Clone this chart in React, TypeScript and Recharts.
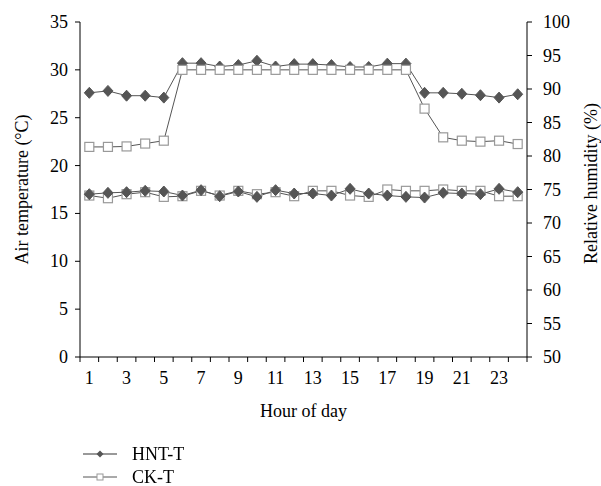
import { LineChart, Line, XAxis, YAxis, Legend } from 'recharts';

const hours = [1, 2, 3, 4, 5, 6, 7, 8, 9, 10, 11, 12, 13, 14, 15, 16, 17, 18, 19, 20, 21, 22, 23, 24];

// air temperature (°C), left axis
const hntTemp = [27.6, 27.8, 27.3, 27.3, 27.1, 30.7, 30.7, 30.35, 30.5, 30.95, 30.35, 30.6, 30.6, 30.5, 30.3, 30.3, 30.65, 30.65, 27.6, 27.6, 27.5, 27.35, 27.1, 27.45];
const ckTemp = [21.95, 21.95, 22.0, 22.3, 22.6, 30.0, 30.0, 30.0, 30.0, 30.0, 30.0, 30.0, 30.0, 30.0, 30.0, 30.0, 30.0, 30.0, 25.95, 22.95, 22.6, 22.5, 22.6, 22.25];

// relative humidity (%), right axis
const hntRH = [74.3, 74.5, 74.6, 74.8, 74.7, 74.1, 74.9, 74.0, 74.7, 73.9, 74.9, 74.4, 74.4, 74.1, 75.1, 74.4, 74.1, 73.9, 73.8, 74.5, 74.4, 74.3, 75.1, 74.6];
const ckRH = [74.1, 73.7, 74.3, 74.6, 73.9, 74.0, 74.8, 74.1, 74.8, 74.3, 74.6, 74.0, 74.8, 74.8, 74.1, 73.9, 75.0, 74.8, 74.8, 75.0, 74.8, 74.8, 74.0, 74.0];

const xTicks = [0.5, 1, 1.5, 2, 2.5, 3, 3.5, 4, 4.5, 5, 5.5, 6, 6.5, 7, 7.5, 8, 8.5, 9, 9.5, 10, 10.5, 11, 11.5, 12, 12.5, 13, 13.5, 14, 14.5, 15, 15.5, 16, 16.5, 17, 17.5, 18, 18.5, 19, 19.5, 20, 20.5, 21, 21.5, 22, 22.5, 23, 23.5, 24, 24.5];
const tempTicks = [0, 5, 10, 15, 20, 25, 30, 35];
const rhTicks = [50, 55, 60, 65, 70, 75, 80, 85, 90, 95, 100];

const data = hours.map((h, i) => ({
  hour: h,
  hntTemp: hntTemp[i],
  ckTemp: ckTemp[i],
  hntRH: hntRH[i],
  ckRH: ckRH[i],
}));

const FONT = '"Liberation Serif", "DejaVu Serif", serif';
const FS = 18;
const LINE = '#555';

const Diamond = (props: any) => {
  const { cx, cy } = props;
  if (cx == null || cy == null) return null;
  return (
    <polygon
      points={`${cx},${cy - 5.5} ${cx + 5},${cy} ${cx},${cy + 5.5} ${cx - 5},${cy}`}
      fill="#555"
      stroke="#555"
    />
  );
};

const Square = (props: any) => {
  const { cx, cy } = props;
  if (cx == null || cy == null) return null;
  return <rect x={cx - 4.5} y={cy - 4.5} width={9} height={9} fill="#fff" stroke="#999" strokeWidth={1.2} />;
};

const HourTick = (props: any) => {
  const { x, y, payload } = props;
  const v = payload.value;
  if (Number.isInteger(v)) {
    if (v % 2 === 0) return <g />;
    return (
      <text x={x} y={y + 27} textAnchor="middle" fontFamily={FONT} fontSize={FS} fill="#000">
        {v}
      </text>
    );
  }
  return <line x1={x} x2={x} y1={y} y2={y + 5} stroke="#000" />;
};

const ValueTick = (side: 'left' | 'right') => (props: any) => {
  const { x, y, payload } = props;
  return (
    <text x={x} y={y} textAnchor={side === 'left' ? 'end' : 'start'} dominantBaseline="central" fontFamily={FONT} fontSize={FS} fill="#000">
      {payload.value}
    </text>
  );
};

const renderLegend = () => (
  <svg width={200} height={40} style={{ display: 'block', overflow: 'visible' }}>
    <line x1={83} x2={117} y1={10} y2={10} stroke="#777" strokeWidth={1.5} />
    <polygon points="100,6.5 103.5,10 100,13.5 96.5,10" fill="#555" />
    <text x={132} y={16} fontFamily={FONT} fontSize={FS} fill="#000">HNT-T</text>
    <line x1={83} x2={117} y1={33} y2={33} stroke="#555" strokeWidth={1} />
    <rect x={97} y={30} width={6} height={6} fill="#fff" stroke="#999" />
    <text x={132} y={39} fontFamily={FONT} fontSize={FS} fill="#000">CK-T</text>
  </svg>
);

export default function App() {
  return (
    <div style={{ position: 'fixed', left: 0, top: 0, width: 601, height: 486, background: '#fff', fontFamily: FONT }}>
      <LineChart width={601} height={486} data={data} margin={{ top: 22, right: 0, bottom: 69, left: 0 }}>
        <XAxis
          dataKey="hour"
          type="number"
          domain={[0.5, 24.5]}
          ticks={xTicks}
          interval={0}
          tickLine={false}
          tickSize={0}
          tickMargin={0}
          tick={HourTick}
          height={60}
          stroke="#000"
          label={(p: any) => {
            const vb = p.viewBox;
            return (
              <text x={vb.x + vb.width / 2} y={vb.y + 60} textAnchor="middle" fontFamily={FONT} fontSize={FS} fill="#000">
                Hour of day
              </text>
            );
          }}
        />
        <YAxis
          yAxisId="left"
          domain={[0, 35]}
          ticks={tempTicks}
          width={80}
          stroke="#000"
          tickSize={5}
          tickMargin={7}
          tick={ValueTick('left')}
          label={(p: any) => {
            const vb = p.viewBox;
            const cx = vb.x + 22;
            const cy = vb.y + vb.height / 2;
            return (
              <text x={cx} y={cy} transform={`rotate(-90 ${cx} ${cy})`} textAnchor="middle" dominantBaseline="central" fontFamily={FONT} fontSize={FS} fill="#000">
                Air temperature (°C)
              </text>
            );
          }}
        />
        <YAxis
          yAxisId="right"
          orientation="right"
          domain={[50, 100]}
          ticks={rhTicks}
          width={74}
          stroke="#000"
          tickSize={5}
          tickMargin={11}
          tick={ValueTick('right')}
          label={(p: any) => {
            const vb = p.viewBox;
            const cx = vb.x + 64;
            const cy = vb.y + vb.height / 2 - 6;
            return (
              <text x={cx} y={cy} transform={`rotate(-90 ${cx} ${cy})`} textAnchor="middle" dominantBaseline="central" fontFamily={FONT} fontSize={FS} fill="#000">
                Relative humidity (%)
              </text>
            );
          }}
        />
        <Legend
          layout="vertical"
          align="center"
          verticalAlign="middle"
          content={renderLegend}
          wrapperStyle={{ left: 0, top: 444, width: 200, height: 40 }}
        />
        <Line yAxisId="left" dataKey="hntTemp" name="HNT-T" stroke={LINE} strokeWidth={1} dot={Diamond} isAnimationActive={false} />
        <Line yAxisId="left" dataKey="ckTemp" name="CK-T" stroke={LINE} strokeWidth={1} dot={Square} isAnimationActive={false} />
        <Line yAxisId="right" dataKey="ckRH" name="CK-T" stroke={LINE} strokeWidth={1} dot={Square} isAnimationActive={false} legendType="none" />
        <Line yAxisId="right" dataKey="hntRH" name="HNT-T" stroke={LINE} strokeWidth={1} dot={Diamond} isAnimationActive={false} legendType="none" />
      </LineChart>
    </div>
  );
}
